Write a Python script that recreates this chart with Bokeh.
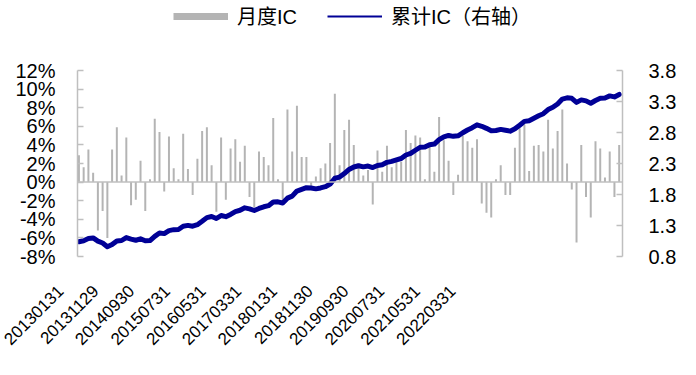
from math import pi
from bokeh.plotting import figure
from bokeh.models import (Range1d, LinearAxis, FixedTicker, PrintfTickFormatter,
                          Legend, LegendItem, Span, ColumnDataSource)
from bokeh.layouts import column
from bokeh.embed import file_html
from bokeh.resources import INLINE

# ---------------- data ----------------
tick_labels = ["20130131", "20131129", "20140930", "20150731", "20160531", "20170331",
               "20180131", "20181130", "20190930", "20200731", "20210531", "20220331"]
tick_label_month = [0, 10, 20, 30, 40, 50, 60, 70, 80, 90, 100, 110]

# monthly IC, in percent
monthly_ic = [
    2.9, 1.6, 3.5, 1.0, -5.2, -3.1, -6.0, 3.5, 5.9, 0.7,
    4.8, -2.5, -1.9, 2.3, -3.1, 0.3, 6.8, 5.4, -1.0, 4.9,
    1.5, 0.3, 5.2, 1.4, -1.4, 2.5, 5.5, 5.9, 1.8, -3.2,
    4.8, -1.9, 3.6, 4.6, 2.2, 3.9, -1.6, -2.7, 3.3, 2.7,
    1.8, 6.9, 0.3, -1.9, 7.8, 3.3, 8.2, 2.7, 2.7, -0.5,
    0.6, 1.5, 2.0, 4.2, 9.5, 1.8, 5.6, 6.7, 4.0, 2.0,
    0.7, 1.3, -2.4, 3.4, 1.1, 3.9, 1.6, 2.4, 2.2, 5.6,
    4.2, 5.0, 4.8, 0.3, 3.8, 1.1, 7.0, 4.5, 2.3, -1.4,
    0.8, 5.0, 4.4, 3.7, 4.6, -2.3, -3.3, -3.8, 0.3, 1.8,
    -1.4, -1.4, 3.7, 5.8, 6.2, 1.2, 3.9, 4.0, 3.3, 6.7,
    3.6, 5.5, 7.8, 2.0, -0.8, -6.5, 4.0, -1.6, -3.8, 4.4,
    3.6, 0.5, 3.3, -1.6, 4.0]

# cumulative IC (right axis)
cum_ic = [
    1.039, 1.055, 1.090, 1.100, 1.048, 1.017, 0.957, 0.992, 1.051, 1.058,
    1.106, 1.081, 1.062, 1.085, 1.054, 1.057, 1.125, 1.179, 1.169, 1.218,
    1.233, 1.236, 1.288, 1.302, 1.288, 1.313, 1.368, 1.427, 1.445, 1.413,
    1.461, 1.442, 1.478, 1.524, 1.546, 1.585, 1.569, 1.542, 1.575, 1.602,
    1.620, 1.679, 1.682, 1.663, 1.741, 1.774, 1.856, 1.883, 1.910, 1.905,
    1.891, 1.906, 1.926, 1.968, 2.063, 2.081, 2.137, 2.204, 2.244, 2.264,
    2.246, 2.259, 2.235, 2.269, 2.280, 2.319, 2.335, 2.359, 2.381, 2.437,
    2.464, 2.514, 2.562, 2.565, 2.603, 2.614, 2.684, 2.729, 2.752, 2.738,
    2.746, 2.796, 2.840, 2.877, 2.923, 2.900, 2.867, 2.829, 2.832, 2.850,
    2.836, 2.822, 2.859, 2.917, 2.979, 2.991, 3.030, 3.070, 3.103, 3.170,
    3.206, 3.261, 3.339, 3.359, 3.351, 3.286, 3.326, 3.310, 3.272, 3.316,
    3.352, 3.357, 3.390, 3.374, 3.414]

left_ticks = [-8, -6, -4, -2, 0, 2, 4, 6, 8, 10, 12]
right_ticks = [0.8, 1.3, 1.8, 2.3, 2.8, 3.3, 3.8]

# ---------------- styles ----------------
LATIN = "Liberation Sans, Arial, sans-serif"
MIXED = "Liberation Sans, 'Noto Sans CJK SC', sans-serif"
GRAY_AX = "#bfbfbf"
BAR = "#b4b4b4"
BLUE = "#000096"
PAD = "\u00a0" * 6   # keeps the rotated labels clear of the first tick position
NAN = float("nan")

n = len(monthly_ic)
src = ColumnDataSource(dict(x=list(range(n)), ic=monthly_ic, cum=cum_ic))

# ---------------- legend strip ----------------
top = figure(width=690, height=40, x_range=Range1d(0, 1), y_range=Range1d(0, 1),
             toolbar_location=None, output_backend="svg",
             x_axis_location=None, y_axis_location=None,
             min_border_left=77, min_border_right=68, min_border_top=0, min_border_bottom=0)
top.grid.visible = False
top.outline_line_color = None
# legend proxies (no visible data; they only supply the swatch styles)
sw_bar = top.line(x=[NAN], y=[NAN], line_color=BAR, line_width=7)
sw_line = top.line(x=[NAN], y=[NAN], line_color=BLUE, line_width=2)
legend = Legend(items=[LegendItem(label="月度IC", renderers=[sw_bar]),
                       LegendItem(label="累计IC（右轴）", renderers=[sw_line])],
                location=(96, 10), orientation="horizontal",
                glyph_width=55, glyph_height=8, label_height=22,
                label_standoff=9, spacing=30, padding=0, margin=0,
                border_line_color=None, background_fill_alpha=0,
                label_text_font=MIXED, label_text_font_size="20px",
                label_text_color="black")
top.add_layout(legend)

# ---------------- main chart ----------------
p = figure(width=690, height=331,
           x_range=Range1d(-0.3, n - 0.3), y_range=Range1d(-8, 12),
           toolbar_location=None, output_backend="svg", x_axis_location=None,
           min_border_left=77, min_border_right=68, min_border_top=30, min_border_bottom=115)
p.extra_y_ranges = {"right": Range1d(0.8, 3.8)}
p.extra_x_ranges = {"dates": Range1d(-0.756, 151.9)}
p.grid.visible = False
p.outline_line_color = None
p.background_fill_color = "white"
p.border_fill_color = "white"

yl = p.yaxis[0]
yl.ticker = FixedTicker(ticks=left_ticks)
yl.formatter = PrintfTickFormatter(format="%d%%")

yr = LinearAxis(y_range_name="right", ticker=FixedTicker(ticks=right_ticks),
                formatter=PrintfTickFormatter(format="%.1f"))
p.add_layout(yr, "right")

for ax in (yl, yr):
    ax.axis_line_color = GRAY_AX
    ax.axis_line_width = 1.5
    ax.major_tick_line_color = GRAY_AX
    ax.major_tick_line_width = 1.5
    ax.major_tick_in = 6
    ax.major_tick_out = 0
    ax.minor_tick_line_color = None
    ax.major_label_text_font = LATIN
    ax.major_label_text_font_size = "20px"
    ax.major_label_text_color = "black"
yl.major_label_standoff = 22
yr.major_label_standoff = 26

# date axis (labels only)
xd = LinearAxis(x_range_name="dates", ticker=FixedTicker(ticks=tick_label_month),
                major_label_overrides={m: t + PAD for m, t in zip(tick_label_month, tick_labels)},
                major_label_orientation=pi / 4, major_label_standoff=12,
                axis_line_color=None, major_tick_line_color=None, minor_tick_line_color=None,
                major_tick_in=0, major_tick_out=0,
                major_label_text_font=LATIN, major_label_text_font_size="17px",
                major_label_text_color="black")
p.add_layout(xd, "below")

p.vbar(x="x", top="ic", bottom=0, width=0.42, source=src, fill_color=BAR, line_color=None)
p.add_layout(Span(location=0, dimension="width", line_color=GRAY_AX, line_width=1.5))
p.line(x="x", y="cum", source=src, y_range_name="right",
       line_color=BLUE, line_width=5, line_join="round", line_cap="round")

layout = column(top, p, spacing=0)
open("out.html", "w").write(file_html(layout, INLINE))
